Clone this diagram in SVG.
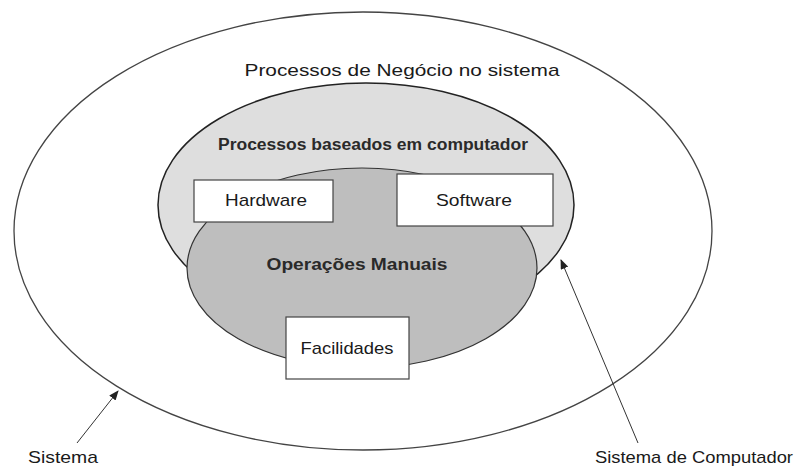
<svg xmlns="http://www.w3.org/2000/svg" width="800" height="469" viewBox="0 0 800 469">
<defs>
<style>
.t{font-family:"Liberation Sans",Arial,sans-serif;font-size:17px;fill:#1a1a1a}
.b{font-weight:bold;font-size:16px;fill:#2a2a2a}
.box{fill:#fff;stroke:#444;stroke-width:1.2}
.conn{stroke:#333;stroke-width:1;fill:none}
</style>
<marker id="ah" markerWidth="10" markerHeight="8" refX="9" refY="4" orient="auto" markerUnits="userSpaceOnUse">
<path d="M0,0 L10,4 L0,8 Z" fill="#222"/>
</marker>
</defs>
<rect width="800" height="469" fill="#fff"/>
<g id="sistema">
<ellipse cx="363" cy="231" rx="349" ry="219" fill="#fff" stroke="#444" stroke-width="1.3"/>
<text class="t" x="402" y="76" text-anchor="middle" textLength="315" lengthAdjust="spacingAndGlyphs">Processos de Negócio no sistema</text>
</g>
<g id="sistema-computador">
<ellipse cx="366" cy="205" rx="208" ry="122" fill="#dedede" stroke="#222" stroke-width="1.5"/>
<text class="t b" x="373" y="150" text-anchor="middle" textLength="310" lengthAdjust="spacingAndGlyphs">Processos baseados em computador</text>
</g>
<g id="operacoes-manuais">
<ellipse cx="362" cy="268" rx="175" ry="100" fill="#bebebe" stroke="#333" stroke-width="1.2"/>
<text class="t b" x="357" y="270" text-anchor="middle" textLength="181" lengthAdjust="spacingAndGlyphs">Operações Manuais</text>
</g>
<g id="hardware">
<rect class="box" x="194" y="180" width="139" height="42"/>
<text class="t" x="266" y="206" text-anchor="middle" textLength="82" lengthAdjust="spacingAndGlyphs">Hardware</text>
</g>
<g id="software">
<rect class="box" x="397" y="174" width="156" height="52"/>
<text class="t" x="474" y="206" text-anchor="middle" textLength="76" lengthAdjust="spacingAndGlyphs">Software</text>
</g>
<g id="facilidades">
<rect class="box" x="286" y="317" width="123" height="62"/>
<text class="t" x="347" y="354" text-anchor="middle" textLength="93" lengthAdjust="spacingAndGlyphs">Facilidades</text>
</g>
<g id="connectors">
<line class="conn" x1="77" y1="443" x2="118" y2="391" marker-end="url(#ah)"/>
<line class="conn" x1="638" y1="443" x2="561" y2="260" marker-end="url(#ah)"/>
</g>
<g id="labels">
<text class="t" x="63" y="463" text-anchor="middle" textLength="70" lengthAdjust="spacingAndGlyphs">Sistema</text>
<text class="t" x="694" y="463" text-anchor="middle" textLength="198" lengthAdjust="spacingAndGlyphs">Sistema de Computador</text>
</g>
</svg>
